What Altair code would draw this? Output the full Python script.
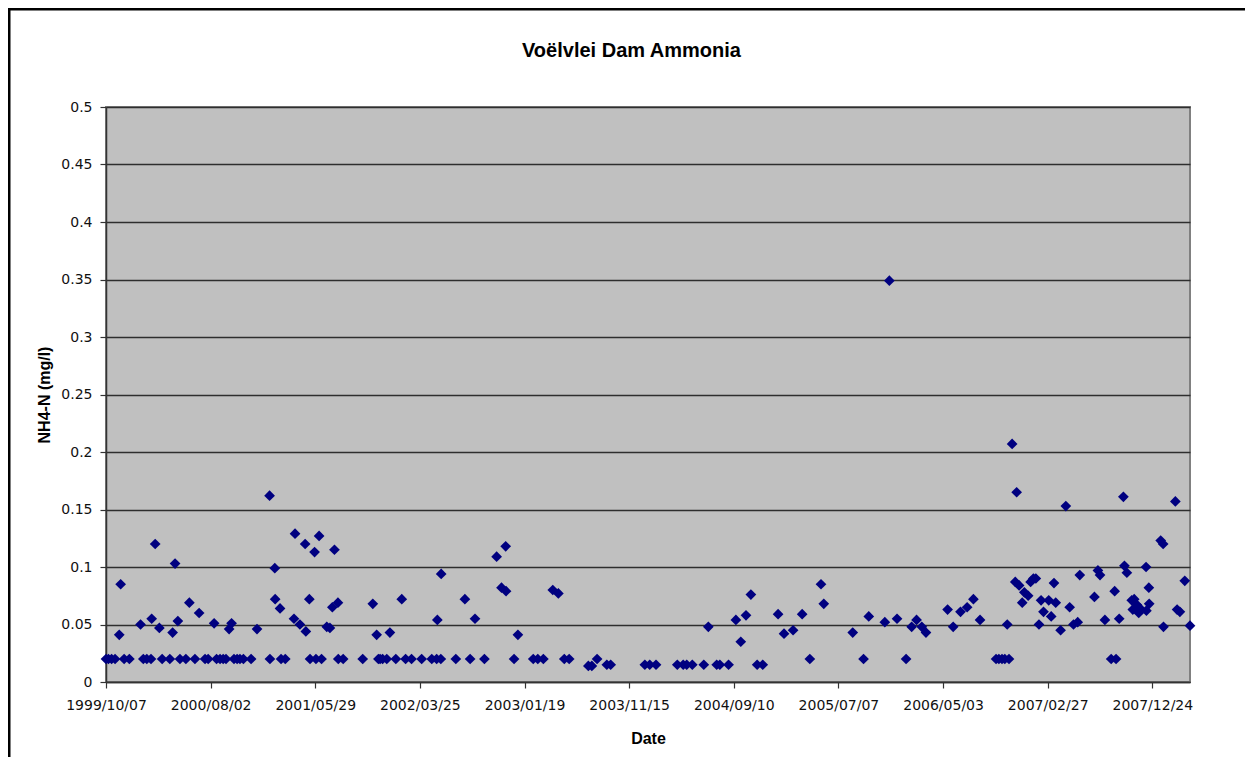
import altair as alt
import pandas as pd

# ---- data ----
START = "1999-10-07"          # first sampling date (left edge of the axis)
DAYS = [0, 7, 16, 26, 38, 42, 52, 67, 99, 107, 117, 129, 131, 141, 153, 161, 183, 191, 198, 206,
        212, 229, 239, 255, 267, 284, 293, 310, 317, 327, 336, 344, 353, 360, 367, 376, 384, 394,
        416, 433, 469, 470, 484, 485, 499, 502, 514, 539, 542, 556, 571, 573, 583, 585, 598, 602,
        611, 618, 633, 642, 649, 655, 665, 666, 680, 736, 765, 776, 781,
        786, 793, 805, 814, 831, 848, 859, 876, 905, 934, 948, 950, 960, 961, 1003, 1029, 1044,
        1058, 1085, 1120, 1134, 1146, 1147, 1170, 1181, 1225, 1238, 1254, 1281, 1297, 1314, 1328,
        1383, 1393, 1408, 1436, 1447, 1545,
        1559, 1577, 1638, 1655, 1665, 1681, 1714, 1727, 1751, 1760, 1785, 1806, 1820, 1835, 1849,
        1867, 1883, 1927, 1944, 1970, 1996, 2018, 2050, 2058, 2141, 2172, 2187, 2233, 2246, 2268,
        2294, 2310, 2324,
        2339, 2351, 2413, 2429, 2450, 2469, 2487, 2506, 2552, 2560, 2569, 2577, 2584, 2589, 2598,
        2607, 2611, 2618, 2627, 2633, 2644, 2651, 2659, 2666, 2675, 2681, 2688, 2703, 2710, 2718,
        2723, 2737, 2752, 2763, 2774, 2786, 2792, 2834, 2844, 2850, 2864, 2882, 2892, 2896, 2905,
        2917, 2920, 2927, 2941, 2944, 2948, 2956, 2961, 2965, 2982, 2983, 2990, 2991, 3024, 3031,
        3032, 3066, 3071, 3079, 3093, 3108]
NH4 = [0.02, 0.02, 0.02, 0.02, 0.041, 0.085, 0.02, 0.02, 0.050, 0.02, 0.02, 0.02, 0.055, 0.120,
       0.047, 0.02, 0.02, 0.043, 0.103, 0.053,
       0.02, 0.02, 0.069, 0.02, 0.060, 0.02, 0.02, 0.051, 0.02, 0.02, 0.02, 0.02, 0.046, 0.051,
       0.02, 0.02, 0.02, 0.02,
       0.02, 0.046, 0.162, 0.02, 0.099, 0.072, 0.064, 0.02, 0.02, 0.055, 0.129, 0.050, 0.120,
       0.044, 0.072, 0.02, 0.113, 0.02,
       0.127, 0.02, 0.048, 0.047, 0.065, 0.115, 0.069, 0.02, 0.02, 0.02, 0.068, 0.041, 0.02,
       0.02, 0.02, 0.02, 0.043, 0.02, 0.072, 0.02, 0.02, 0.02, 0.02, 0.02, 0.054, 0.02, 0.094,
       0.02, 0.072, 0.02,
       0.055, 0.02, 0.109, 0.082, 0.118, 0.079, 0.02, 0.041, 0.02, 0.02, 0.02, 0.080, 0.077,
       0.02, 0.02,
       0.014, 0.014, 0.02, 0.015, 0.015, 0.015,
       0.015, 0.015, 0.015, 0.015, 0.015, 0.015, 0.015, 0.048, 0.015, 0.015, 0.015, 0.054, 0.035,
       0.058, 0.076,
       0.015, 0.015, 0.059, 0.042, 0.045, 0.059, 0.02, 0.085, 0.068, 0.043, 0.02, 0.057, 0.052,
       0.349, 0.055,
       0.02, 0.048, 0.054,
       0.048, 0.043, 0.063, 0.048, 0.061, 0.065, 0.072, 0.054, 0.02, 0.02, 0.02, 0.02, 0.050,
       0.02, 0.207,
       0.087, 0.165, 0.084, 0.069, 0.078, 0.075, 0.087, 0.090, 0.090, 0.050, 0.071, 0.061, 0.071,
       0.057, 0.086,
       0.069, 0.045, 0.153, 0.065, 0.050, 0.052, 0.093, 0.074, 0.097, 0.093, 0.054, 0.02, 0.079,
       0.02, 0.055,
       0.161, 0.101, 0.095, 0.071, 0.063, 0.072, 0.067, 0.060, 0.064, 0.100, 0.062, 0.082, 0.068,
       0.123, 0.120,
       0.048, 0.157, 0.063, 0.061, 0.088, 0.049]

X_TICK_LABELS = ["1999/10/07", "2000/08/02", "2001/05/29", "2002/03/25", "2003/01/19",
                 "2003/11/15", "2004/09/10", "2005/07/07", "2006/05/03", "2007/02/27",
                 "2007/12/24"]
X_END = "2008/04/10"
Y_TICKS = [0, 0.05, 0.1, 0.15, 0.2, 0.25, 0.3, 0.35, 0.4, 0.45, 0.5]

TITLE = "Voëlvlei Dam Ammonia"
X_TITLE = "Date"
Y_TITLE = "NH4-N (mg/l)"


def ms(s):
    return int(pd.Timestamp(s.replace("/", "-")).value // 10**6)


dates = (pd.Timestamp(START) + pd.to_timedelta(DAYS, unit="D")).strftime("%Y-%m-%d")
df = pd.DataFrame({"date": list(dates), "nh4": NH4})

W, H = 1084, 575

points = alt.Chart(df).mark_point(
    shape="diamond", filled=True, size=115, color="#000080", opacity=1, strokeWidth=0
).encode(
    x=alt.X(
        "date:T",
        scale=alt.Scale(type="utc", domain=[ms(X_TICK_LABELS[0]), ms(X_END)], nice=False),
        axis=alt.Axis(
            values=[ms(t) for t in X_TICK_LABELS],
            labelExpr="utcFormat(datum.value, '%Y/%m/%d')",
            labelOverlap=False,
            labelBound=False,
            labelFlush=False,
            title=X_TITLE,
            grid=False,
            labelPadding=10,
            titleY=56,
            titleBaseline="middle",
        ),
    ),
    y=alt.Y(
        "nh4:Q",
        scale=alt.Scale(domain=[0, 0.5], nice=False, zero=True),
        axis=alt.Axis(
            values=Y_TICKS,
            format="~g",
            title=Y_TITLE,
            grid=True,
            gridColor="#2e2e2e",
            gridWidth=1.3,
            labelPadding=8,
            labelOverlap=False,
            titleX=-62,
            titleY=H / 2,
            titleAngle=-90,
            titleAlign="center",
            titleBaseline="middle",
        ),
    ),
)

# chart-area frame (only its top and left edges fall inside the picture)
one = pd.DataFrame({"k": [0]})
frame_top = alt.Chart(one).mark_rule(color="black", strokeWidth=2.5, strokeCap="square").encode(
    x=alt.value(-96.75), x2=alt.value(1200), y=alt.value(-97.75)
)
frame_left = alt.Chart(one).mark_rule(color="black", strokeWidth=2.5, strokeCap="square").encode(
    x=alt.value(-96.75), y=alt.value(-97.75), y2=alt.value(720)
)

chart = alt.layer(frame_top, frame_left, points).properties(
    width=W,
    height=H,
    autosize=alt.AutoSizeParams(type="none"),
    padding={"left": 98, "top": 99, "right": 55, "bottom": 75},
    title=alt.TitleParams(
        TITLE, font="Liberation Sans", fontSize=20, fontWeight="bold", color="black",
        anchor="middle", frame="group", dx=-16.5, offset=-70, baseline="alphabetic",
    ),
).configure(
    background="white"
).configure_view(
    fill="#C0C0C0", stroke="#808080", strokeWidth=2
).configure_axis(
    labelFont="DejaVu Sans", labelFontSize=14, labelColor="#111111",
    titleFont="Liberation Sans", titleFontSize=16, titleFontWeight="bold", titleColor="black",
    domainColor="#333333", domainWidth=1.5, tickColor="#333333", tickSize=6, tickWidth=1.2,
)

chart.save("out.html", embed_options={"renderer": "svg", "actions": False})
